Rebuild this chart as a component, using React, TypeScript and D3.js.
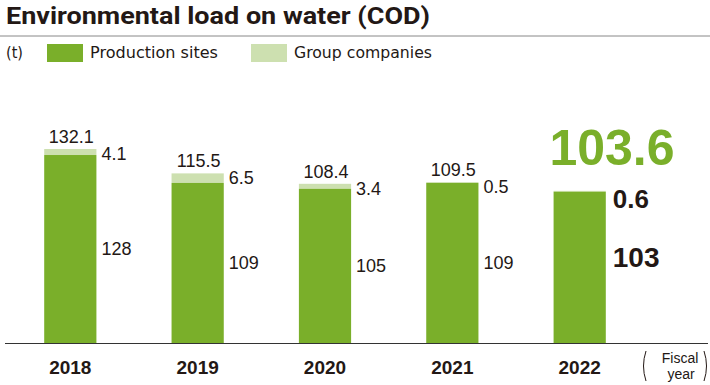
import React, { useEffect, useRef } from 'react';
import * as d3 from 'd3';

const years = ['2018', '2019', '2020', '2021', '2022'];
const production = [128, 109, 105, 109, 103];
const group = [4.1, 6.5, 3.4, 0.5, 0.6];
const totals = [132.1, 115.5, 108.4, 109.5, 103.6];

const DARK = '#7aaf2a';
const LIGHT = '#cde0b0';

const App: React.FC = () => {
  const ref = useRef<SVGSVGElement>(null);

  useEffect(() => {
    const svg = d3.select(ref.current);
    svg.selectAll('*').remove();

    const baseline = 343;
    const x = d3.scaleBand().domain(years).range([6, 644]).paddingInner(0.59).paddingOuter(0.3);
    const y = d3.scaleLinear().domain([0, 132.1]).range([baseline, 149]);

    // title
    svg.append('text')
      .attr('x', 6).attr('y', 24)
      .attr('font-family', 'Roboto, sans-serif').attr('font-weight', 'bold')
      .attr('font-size', 24).attr('fill', '#231815')
      .attr('textLength', 424).attr('lengthAdjust', 'spacingAndGlyphs')
      .text('Environmental load on water (COD)');
    svg.append('line').attr('x1', 0).attr('x2', 710).attr('y1', 36).attr('y2', 36)
      .attr('stroke', '#888').attr('stroke-width', 1);

    // legend
    const lg = svg.append('g').attr('font-family', '"DejaVu Sans", sans-serif').attr('font-size', 15).attr('fill', '#231815');
    lg.append('text').attr('x', 6).attr('y', 58).attr('textLength', 17).attr('lengthAdjust', 'spacingAndGlyphs').text('(t)');
    lg.append('rect').attr('x', 47).attr('y', 44).attr('width', 36).attr('height', 18).attr('fill', DARK);
    lg.append('text').attr('x', 90).attr('y', 58).attr('textLength', 128).attr('lengthAdjust', 'spacingAndGlyphs').text('Production sites');
    lg.append('rect').attr('x', 251).attr('y', 44).attr('width', 36).attr('height', 18).attr('fill', LIGHT);
    lg.append('text').attr('x', 294).attr('y', 58).attr('textLength', 138).attr('lengthAdjust', 'spacingAndGlyphs').text('Group companies');

    const g = svg.append('g');
    years.forEach((yr, i) => {
      const bx = x(yr) ?? 0;
      const bw = x.bandwidth();
      const pTop = y(production[i]);
      const tTop = y(production[i] + group[i]);
      g.append('rect').attr('x', bx).attr('y', tTop).attr('width', bw).attr('height', pTop - tTop).attr('fill', LIGHT);
      g.append('rect').attr('x', bx).attr('y', pTop).attr('width', bw).attr('height', baseline - pTop).attr('fill', DARK);

      const last = i === years.length - 1;
      if (!last) {
        const t = g.append('g').attr('font-family', '"Liberation Sans", Arial, sans-serif').attr('font-size', 18).attr('fill', '#231815');
        t.append('text').attr('x', bx + bw / 2 + 1).attr('y', tTop - 6).attr('text-anchor', 'middle').text(totals[i].toFixed(1));
        t.append('text').attr('x', bx + bw + 5).attr('y', tTop + 11).text(group[i].toFixed(1));
        t.append('text').attr('x', bx + bw + 5).attr('y', (pTop + baseline) / 2 + 6).text(String(production[i]));
      } else {
        const t = g.append('g').attr('font-family', '"Liberation Sans", Arial, sans-serif').attr('font-weight', 'bold');
        t.append('text').attr('x', 612).attr('y', 165).attr('text-anchor', 'middle')
          .attr('font-size', 50).attr('fill', DARK).text(totals[i].toFixed(1));
        t.append('text').attr('x', bx + bw + 7).attr('y', tTop + 17).attr('font-size', 26).attr('fill', '#231815').text(group[i].toFixed(1));
        t.append('text').attr('x', bx + bw + 7).attr('y', 267).attr('font-size', 28).attr('fill', '#231815').text(String(production[i]));
      }

      svg.append('text').attr('x', bx + bw / 2).attr('y', 374).attr('text-anchor', 'middle')
        .attr('font-family', '"Liberation Sans", Arial, sans-serif').attr('font-weight', 'bold')
        .attr('font-size', 19).attr('fill', '#231815').text(yr);
    });

    svg.append('line').attr('x1', 5).attr('x2', 708).attr('y1', baseline + 0.5).attr('y2', baseline + 0.5)
      .attr('stroke', '#333').attr('stroke-width', 1.2);

    // fiscal year note
    const fy = svg.append('g').attr('font-family', '"Liberation Sans", Arial, sans-serif').attr('fill', '#231815');
    fy.append('text').attr('x', 680).attr('y', 363).attr('text-anchor', 'middle').attr('font-size', 14).text('Fiscal');
    fy.append('text').attr('x', 681).attr('y', 379).attr('text-anchor', 'middle').attr('font-size', 14).text('year');
    fy.append('path').attr('d', 'M 646 351 Q 641 366 646 381').attr('fill', 'none').attr('stroke', '#231815').attr('stroke-width', 1);
    fy.append('path').attr('d', 'M 704 351 Q 709 366 704 381').attr('fill', 'none').attr('stroke', '#231815').attr('stroke-width', 1);
  }, []);

  return (
    <svg ref={ref} width={710} height={385} style={{ display: 'block', position: 'absolute', left: 0, top: 0, background: '#fff' }} />
  );
};

export default App;
